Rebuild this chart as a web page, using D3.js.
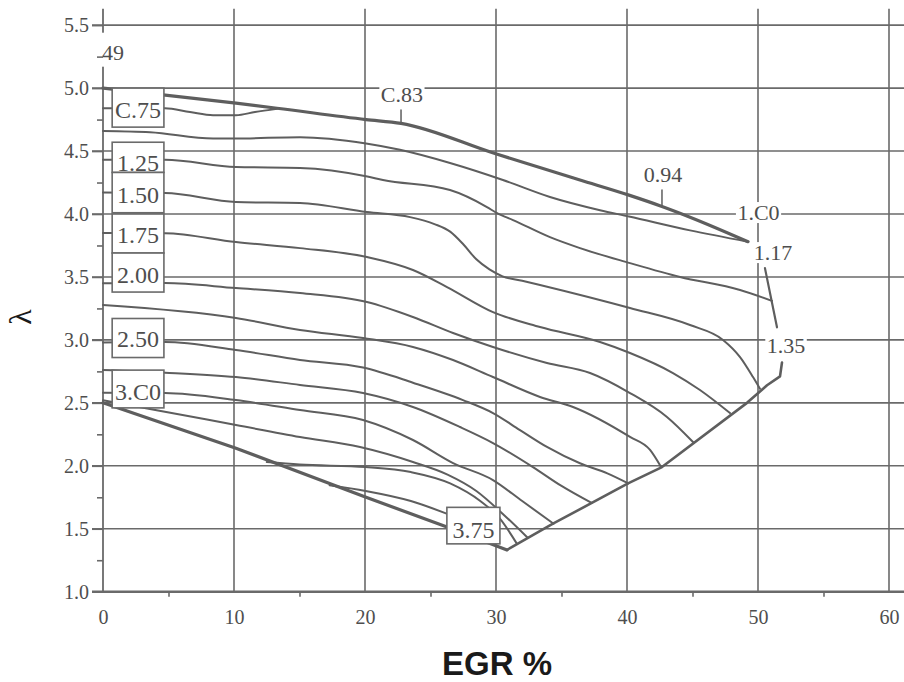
<!DOCTYPE html>
<html><head><meta charset="utf-8">
<script src="https://cdn.jsdelivr.net/npm/d3@7"></script>
<style>body{margin:0;background:#fff}svg{display:block}</style>
</head><body>
<svg id="c" width="904" height="682"></svg>
<script>
// ---------- data ----------
const xTicks = [0, 10, 20, 30, 40, 50, 60];
const xMinor = [5, 15, 25, 35, 45, 55];
const yTicks = [1.0, 1.5, 2.0, 2.5, 3.0, 3.5, 4.0, 4.5, 5.0, 5.5];
const yMinor = [1.25, 1.75, 2.25, 2.75, 3.25, 3.75, 4.25, 4.75, 5.25];

// iso-lines [EGR %, lambda]
const isoTop = [[0,5.0],[10.15,4.88],[13.28,4.84],[20.08,4.75],[22.75,4.72],[29.92,4.48],[36.41,4.27],[40.15,4.15],[42.67,4.06],[44.81,3.975],[49.24,3.78]];
const iso075 = [[0,4.84],[4.73,4.84],[6.64,4.81],[8.4,4.785],[10.15,4.785],[11.6,4.81],[13.28,4.835]];
const iso100 = [[0,4.66],[3.59,4.65],[8.4,4.60],[10.15,4.60],[15.04,4.61],[20.08,4.56],[22.67,4.51],[26.49,4.405],[30.53,4.27],[34.12,4.135],[37.94,4.03],[40.15,3.98],[44.81,3.87],[49.24,3.78]];
const iso125 = [[0,4.43],[4.73,4.43],[10.15,4.374],[15.04,4.366],[20.08,4.30],[21.37,4.27],[26.49,4.19],[29.31,4.055],[30.08,4.007],[31.3,3.952],[34.12,3.816],[36.41,3.729],[40.23,3.61],[44.05,3.50],[48.63,3.396],[51.07,3.31]];
const iso150 = [[0,4.17],[4.73,4.166],[10.15,4.095],[15.04,4.087],[20.15,4.015],[23.44,3.975],[25.3,3.92],[26.5,3.86],[27.5,3.76],[28.5,3.64],[29.5,3.56],[30.5,3.505],[32.0,3.47],[33.36,3.436],[40.23,3.253],[44.81,3.118],[47.33,3.0],[48.63,2.864],[49.62,2.705],[50.15,2.612]];
const iso175 = [[0,3.85],[4.73,3.848],[10.15,3.777],[15.04,3.729],[20.15,3.658],[23.66,3.555],[26.26,3.42],[29.77,3.221],[33.36,3.102],[37.94,2.983],[40.23,2.896],[43.51,2.737],[45.57,2.602],[47.86,2.419]];
const iso200 = [[0,3.45],[4.73,3.451],[10.15,3.412],[15.04,3.372],[20.15,3.301],[23.66,3.182],[26.72,3.055],[29.77,2.944],[33.89,2.817],[37.18,2.737],[40.23,2.578],[43.05,2.388],[45.04,2.189]];
const iso225 = [[0,3.277],[10.15,3.174],[15.04,3.079],[19.85,3.015],[23.66,2.944],[26.72,2.84],[29.77,2.705],[33.36,2.547],[35.88,2.467],[40.23,2.229],[41.76,2.126],[42.6,1.99]];
const iso250 = [[0,2.98],[4.73,2.983],[10.15,2.92],[15.04,2.84],[19.85,2.78],[23.66,2.66],[27.48,2.522],[29.77,2.419],[31.83,2.284],[33.89,2.15],[36.41,2.02],[38.5,1.94],[40.1,1.86]];
const iso275 = [[0,2.76],[4.73,2.74],[10.15,2.705],[15.04,2.642],[19.85,2.578],[23.66,2.467],[27.25,2.308],[29.77,2.181],[32.82,1.99],[35.0,1.84],[37.3,1.705]];
const iso300 = [[0,2.58],[4.73,2.578],[10.15,2.522],[15.04,2.443],[19.85,2.364],[23.66,2.205],[26.72,2.022],[29.77,1.887],[32.0,1.72],[34.4,1.54]];
const iso325 = [[0,2.52],[4.2,2.44],[10.15,2.324],[15.04,2.229],[19.62,2.149],[23.66,2.03],[26.3,1.93],[28.5,1.80],[30.5,1.62],[32.4,1.43]];
const iso350 = [[12.5,2.03],[15.0,2.01],[20.05,1.99],[23.5,1.95],[26.5,1.86],[28.8,1.72],[30.3,1.58],[31.6,1.38]];
const iso365 = [[17.3,1.845],[20.05,1.80],[23.5,1.72],[26.23,1.62]];
const boundBottom = [[0,2.5],[10.15,2.14],[20.08,1.75],[26.26,1.514],[30.84,1.332]];
const boundRight = [[30.84,1.332],[34.35,1.54],[40.08,1.86],[42.67,1.99],[49.16,2.50],[50.69,2.64],[51.68,2.71],[51.83,2.82]];
const boundRightUpper = [[50.53,3.57],[51.45,3.10]];

// boxed labels
const boxText = ["C.75", "1.25", "1.50", "1.75", "2.00", "2.50", "3.C0", "3.75"];
const boxLeft = [0.7, 0.7, 0.7, 0.7, 0.7, 0.7, 0.7, 26.25];
const boxRight = [4.65, 4.65, 4.65, 4.65, 4.65, 4.65, 4.65, 30.3];
const boxTop = [5.0, 4.57, 4.33, 4.0, 3.69, 3.17, 2.76, 1.67];
const boxBottom = [4.69, 4.33, 4.01, 3.69, 3.38, 2.86, 2.46, 1.38];
const boxBase = [4.76, 4.34, 4.09, 3.77, 3.45, 2.94, 2.52, 1.43];

// free labels
const freeText = ["C.83", "0.94", "1.C0", "1.17", "1.35"];
const freeX = [22.82, 42.75, 50.04, 51.15, 52.14];
const freeBase = [4.89, 4.254, 3.952, 3.634, 2.896];
const leaders = [[[22.75,4.826],[22.75,4.723]], [[42.67,4.19],[42.67,4.07]]];

// ---------- drawing ----------
const W = 904, H = 682;
const x = d3.scaleLinear().domain([0, 60]).range([103, 889]);
const y = d3.scaleLinear().domain([1, 5.5]).range([591.7, 25.15]);
const svg = d3.select("#c");
const GRID = "#6a6a6a", LINE = "#5e5e5e", TXT = "#4e4e4e";
const SERIF = "'Liberation Serif','Times New Roman',serif";

svg.append("rect").attr("width", W).attr("height", H).attr("fill", "#fff");

// grid
const grid = svg.append("g");
grid.selectAll("line.h").data(yTicks).join("line").attr("class","h")
  .attr("x1", x(0) - 11).attr("x2", W).attr("y1", d => y(d)).attr("y2", d => y(d))
  .attr("stroke", GRID).attr("stroke-width", d => d === 1 ? 2.6 : 1.6);
grid.selectAll("line.v").data(xTicks).join("line").attr("class","v")
  .attr("x1", d => x(d)).attr("x2", d => x(d)).attr("y1", y(5.63)).attr("y2", y(1))
  .attr("stroke", GRID).attr("stroke-width", d => d === 0 ? 1.8 : 1.6);

// "49" label with background gap in axis line
const g49 = svg.append("g");
g49.append("rect").attr("x", x(0) - 1.5).attr("y", y(5.44)).attr("width", 28).attr("height", y(5.17) - y(5.44)).attr("fill", "#fff");

// axes
const yAx = svg.append("g").attr("transform", `translate(${x(0)},0)`)
  .call(d3.axisLeft(y).tickValues(yTicks).tickSize(11).tickPadding(3).tickFormat(d3.format(".1f")));
yAx.select(".domain").remove();
yAx.selectAll("line").attr("stroke", GRID).attr("stroke-width", 1.6);
yAx.selectAll("text").attr("font-family", SERIF).attr("font-size", 20).attr("fill", TXT);

const yMin = svg.append("g").attr("transform", `translate(${x(0)},0)`)
  .call(d3.axisLeft(y).tickValues(yMinor).tickSize(6).tickFormat(""));
yMin.select(".domain").remove();
yMin.selectAll("line").attr("stroke", GRID).attr("stroke-width", 1.6);

const xAx = svg.append("g").attr("transform", `translate(0,${y(1)})`)
  .call(d3.axisBottom(x).tickValues(xTicks).tickSize(0).tickPadding(18).tickFormat(d3.format("d")));
xAx.select(".domain").remove();
xAx.selectAll("text").attr("font-family", SERIF).attr("font-size", 20).attr("fill", TXT);

const xMin = svg.append("g").attr("transform", `translate(0,${y(1)})`)
  .call(d3.axisBottom(x).tickValues(xMinor).tickSize(5).tickFormat(""));
xMin.select(".domain").remove();
xMin.selectAll("line").attr("stroke", GRID).attr("stroke-width", 1.6);

g49.append("text").attr("x", x(0) - 1).attr("y", y(5.225)).attr("font-family", SERIF)
  .attr("font-size", 22).attr("fill", TXT).text("49");

// curves
const smooth = d3.line().x(d => x(d[0])).y(d => y(d[1])).curve(d3.curveMonotoneX);
const straight = d3.line().x(d => x(d[0])).y(d => y(d[1]));
const curves = [iso075, iso100, iso125, iso150, iso175, iso200, iso225, iso250, iso275, iso300, iso325, iso350, iso365];
const cg = svg.append("g").attr("fill", "none").attr("stroke", LINE).attr("stroke-linejoin", "round").attr("stroke-linecap", "round");
cg.selectAll("path.iso").data(curves).join("path").attr("class","iso").attr("d", smooth).attr("stroke-width", 2);
cg.append("path").attr("d", smooth(isoTop)).attr("stroke-width", 3.2);
cg.append("path").attr("d", straight(boundBottom)).attr("stroke-width", 3.2);
cg.append("path").attr("d", straight(boundRight)).attr("stroke-width", 2.6);
cg.append("path").attr("d", straight(boundRightUpper)).attr("stroke-width", 2.2);
cg.selectAll("path.lead").data(leaders).join("path").attr("class","lead").attr("d", straight).attr("stroke-width", 1.5);

// boxed labels
const bg = svg.append("g");
boxText.forEach((t, i) => {
  bg.append("rect").attr("x", x(boxLeft[i])).attr("y", y(boxTop[i]))
    .attr("width", x(boxRight[i]) - x(boxLeft[i])).attr("height", y(boxBottom[i]) - y(boxTop[i]))
    .attr("fill", "#fff").attr("stroke", GRID).attr("stroke-width", 1.6);
  bg.append("text").attr("x", (x(boxLeft[i]) + x(boxRight[i])) / 2).attr("y", y(boxBase[i]))
    .attr("text-anchor", "middle").attr("font-family", SERIF).attr("font-size", 24)
    .attr("fill", TXT).text(t);
});

// free labels with white background
freeText.forEach((t, i) => {
  const g = svg.append("g");
  const bx = x(freeX[i]), by = y(freeBase[i]);
  const tx = g.append("text").attr("x", bx).attr("y", by).attr("text-anchor", "middle")
    .attr("font-family", SERIF).attr("font-size", 22).attr("fill", TXT).text(t);
  const bb = tx.node().getBBox();
  g.insert("rect", "text").attr("x", bb.x - 1.5).attr("y", by - 18).attr("width", bb.width + 3)
    .attr("height", 21).attr("fill", "#fff");
});

// axis titles
svg.append("text").attr("x", (x(30) + 1)).attr("y", 675).attr("text-anchor", "middle")
  .attr("font-family", "'Liberation Sans',Arial,sans-serif").attr("font-weight", "bold")
  .attr("font-size", 33).attr("fill", "#1a1a1a").text("EGR %");
svg.append("text").attr("transform", "translate(20,317) rotate(-90)").attr("text-anchor", "middle")
  .attr("dominant-baseline", "central").attr("font-family", SERIF).attr("font-size", 32)
  .attr("fill", "#1a1a1a").text("λ");
</script>
</body></html>
